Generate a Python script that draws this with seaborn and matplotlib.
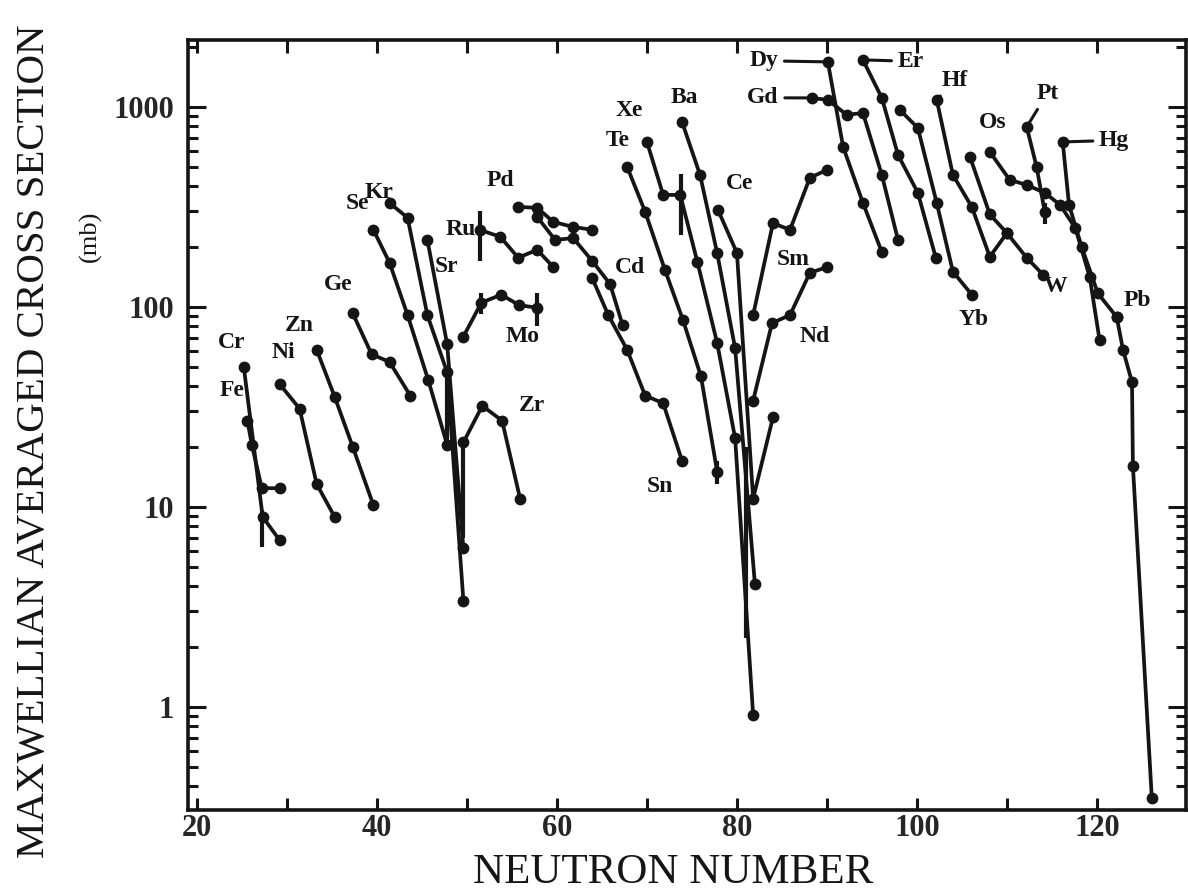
import numpy as np
import pandas as pd
import matplotlib
matplotlib.use("Agg")
import matplotlib.pyplot as plt
import seaborn as sns
from matplotlib.ticker import FixedLocator, FixedFormatter, MultipleLocator, LogLocator, NullFormatter

# isotope chains: neutron number and maxwellian averaged cross section (mb)
cr_n = [25.2, 27.3, 29.2]
cr_mb = [50, 8.9, 6.8]
fe_n = [25.6, 26.1, 27.2, 29.2]
fe_mb = [27, 20.4, 12.4, 12.4]
ni_n = [29.2, 31.4, 33.3, 35.3]
ni_mb = [41, 31, 13, 8.9]
zn_n = [33.3, 35.3, 37.3, 39.6]
zn_mb = [61, 35.5, 20, 10.2]
ge_n = [37.3, 39.4, 41.4, 43.7]
ge_mb = [93, 58, 53, 36]
se_n = [39.6, 41.4, 43.4, 45.7, 47.8]
se_mb = [243, 166, 91, 43, 20.4]
kr_n = [41.4, 43.4, 45.6, 47.8, 49.6]
kr_mb = [331, 279, 91, 47, 3.4]
sr_n = [45.6, 47.8, 49.6]
sr_mb = [216, 65, 6.2]
zr_n = [49.6, 51.7, 53.9, 55.9]
zr_mb = [21, 32, 27, 11]
mo_n = [49.6, 51.6, 53.8, 55.8, 57.8]
mo_mb = [71, 105, 115, 102, 99]
ru_n = [51.4, 53.7, 55.7, 57.8, 59.6]
ru_mb = [243, 224, 176, 193, 158]
pd_n = [55.7, 57.8, 59.6, 61.8, 63.9]
pd_mb = [316, 313, 266, 251, 243]
cd_n = [57.8, 59.8, 61.8, 63.9, 65.9, 67.3]
cd_mb = [282, 216, 221, 170, 130, 81]
sn_n = [63.9, 65.7, 67.8, 69.8, 71.8, 73.9]
sn_mb = [140, 91, 61, 36, 33, 17]
te_n = [67.8, 69.8, 72.0, 74.0, 76.0, 77.8]
te_mb = [501, 299, 153, 86, 45, 15]
xe_n = [70.0, 71.8, 73.7, 75.6, 77.8, 79.8, 81.8]
xe_mb = [668, 363, 363, 168, 66, 22, 0.91]
ba_n = [73.9, 75.9, 77.8, 79.8, 82.0]
ba_mb = [841, 457, 186, 62, 4.1]
ce_n = [77.9, 80.0, 81.8, 84.0]
ce_mb = [305, 186, 11, 28]
nd_n = [81.8, 83.9, 85.9, 88.1, 90.0]
nd_mb = [34, 83, 91, 148, 158]
sm_n = [81.8, 84.0, 85.9, 88.1, 90.0]
sm_mb = [91, 262, 243, 442, 484]
gd_n = [88.3, 90.1, 92.2, 94.0, 96.1, 97.9]
gd_mb = [1109, 1084, 912, 933, 457, 216]
dy_n = [90.1, 91.8, 94.0, 96.1]
dy_mb = [1679, 631, 331, 188]
er_n = [94.0, 96.1, 97.9, 100.1, 102.1]
er_mb = [1718, 1109, 575, 372, 176]
yb_n = [98.1, 100.1, 102.2, 104.0, 106.1]
yb_mb = [966, 785, 331, 150, 115]
hf_n = [102.2, 104.0, 106.1, 108.1, 110.0]
hf_mb = [1084, 457, 316, 178, 234]
w_n = [105.9, 108.1, 110.0, 112.2, 114.0]
w_mb = [562, 290, 234, 176, 145]
os_n = [108.1, 110.3, 112.2, 114.2, 115.9, 117.6, 119.2, 120.3]
os_mb = [596, 432, 407, 372, 324, 248, 141, 68]
pt_n = [112.2, 113.3, 114.2]
pt_mb = [794, 501, 299]
hg_n = [116.2, 116.9, 118.3, 120.1, 122.2]
hg_mb = [668, 324, 200, 117, 89]
pb_n = [122.2, 122.9, 123.9, 124.0, 126.1]
pb_mb = [89, 61, 42, 16, 0.35]

# uncertainty bars (neutron number, low, high)
err_n = [27.2, 47.8, 49.6, 51.4, 51.6, 57.8, 73.8, 77.8, 81.0, 114.2]
err_lo = [6.3, 19, 7, 170, 92, 80, 230, 13, 2.2, 260]
err_hi = [9.6, 45, 20, 300, 118, 118, 460, 17, 20, 330]

chains = {
    "Cr": (cr_n, cr_mb), "Fe": (fe_n, fe_mb), "Ni": (ni_n, ni_mb),
    "Zn": (zn_n, zn_mb), "Ge": (ge_n, ge_mb), "Se": (se_n, se_mb),
    "Kr": (kr_n, kr_mb), "Sr": (sr_n, sr_mb), "Zr": (zr_n, zr_mb),
    "Mo": (mo_n, mo_mb), "Ru": (ru_n, ru_mb), "Pd": (pd_n, pd_mb),
    "Cd": (cd_n, cd_mb), "Sn": (sn_n, sn_mb), "Te": (te_n, te_mb),
    "Xe": (xe_n, xe_mb), "Ba": (ba_n, ba_mb), "Ce": (ce_n, ce_mb),
    "Nd": (nd_n, nd_mb), "Sm": (sm_n, sm_mb), "Gd": (gd_n, gd_mb),
    "Dy": (dy_n, dy_mb), "Er": (er_n, er_mb), "Yb": (yb_n, yb_mb),
    "Hf": (hf_n, hf_mb), "W": (w_n, w_mb), "Os": (os_n, os_mb),
    "Pt": (pt_n, pt_mb), "Hg": (hg_n, hg_mb), "Pb": (pb_n, pb_mb),
}
rows = []
for el, (ns, ms) in chains.items():
    for n, m in zip(ns, ms):
        rows.append({"element": el, "N": n, "mb": m})
df = pd.DataFrame(rows)

sns.set_style("ticks")
plt.rcParams['font.family'] = ['Liberation Serif', 'DejaVu Serif']

fig = plt.figure(figsize=(11.88, 8.92), dpi=100)
ax = fig.add_axes([188 / 1188, 1 - 810 / 892, 998 / 1188, 770 / 892])

ink = "#151515"
sns.lineplot(data=df, x="N", y="mb", hue="element", units="element",
             palette=[ink] * len(chains), estimator=None, sort=False,
             marker="o", markersize=8.5, markeredgewidth=0, linewidth=2.7,
             legend=False, ax=ax)
ax.vlines(err_n, err_lo, err_hi, color=ink, linewidth=3)

ax.set_yscale("log")
ax.set_xlim(19, 129.9)
ax.set_ylim(0.305, 2160)

# element labels in data units
label_at = {
    "Cr": (23.9, 66), "Fe": (23.9, 38), "Ni": (29.6, 59), "Zn": (31.4, 81),
    "Ge": (35.7, 129), "Se": (37.8, 330), "Kr": (40.2, 375), "Sr": (47.7, 160),
    "Ru": (49.3, 245), "Pd": (53.7, 430), "Mo": (56.2, 71), "Zr": (57.2, 32),
    "Cd": (68.1, 158), "Sn": (71.4, 12.6), "Te": (66.8, 680), "Xe": (68.0, 960),
    "Ba": (74.2, 1110), "Ce": (80.3, 415), "Sm": (86.3, 172), "Nd": (88.6, 71),
    "Yb": (106.3, 86), "Os": (108.4, 840), "W": (115.4, 126),
}
for el, (x, y) in label_at.items():
    ax.text(x, y, el, fontsize=17, fontweight="bold", ha="center",
            va="center", color=ink)

# labels joined to the first point of their chain by a short stroke
connected = {
    "Dy": ((83.0, 1700), (90.1, 1679)),
    "Gd": ((82.9, 1110), (88.3, 1109)),
    "Er": ((99.3, 1690), (94.0, 1718)),
    "Hf": ((104.2, 1360), (102.2, 1084)),
    "Pt": ((114.5, 1170), (112.2, 794)),
    "Hg": ((121.9, 680), (116.2, 668)),
    "Pb": ((124.5, 108), (122.2, 89)),
}
for el, (txt, pt) in connected.items():
    ax.annotate(el, xy=pt, xytext=txt, fontsize=17, fontweight="bold",
                ha="center", va="center", color=ink,
                arrowprops=dict(arrowstyle="-", color=ink, lw=2.2,
                                shrinkA=2, shrinkB=3))

ax.xaxis.set_major_locator(MultipleLocator(20))
ax.xaxis.set_minor_locator(MultipleLocator(10))
ax.yaxis.set_major_locator(FixedLocator([1, 10, 100, 1000]))
ax.yaxis.set_major_formatter(FixedFormatter(["1", "10", "100", "1000"]))
ax.yaxis.set_minor_locator(LogLocator(base=10, subs=np.arange(2, 10)))
ax.yaxis.set_minor_formatter(NullFormatter())

ax.tick_params(axis="both", which="both", direction="in", top=True,
               right=True, color=ink, width=2.2)
ax.tick_params(axis="y", which="major", length=13, labelsize=22, pad=10)
ax.tick_params(axis="y", which="minor", length=7)
ax.tick_params(axis="x", which="both", length=9, labelsize=22, pad=3)
for lab in ax.get_xticklabels() + ax.get_yticklabels():
    lab.set_fontweight("bold")
for sp in ax.spines.values():
    sp.set_linewidth(2.6)
    sp.set_color(ink)

ax.set_xlabel("")
ax.set_ylabel("")
fig.text(0.567, 0.022, "NEUTRON NUMBER", fontsize=31, ha="center",
         va="center", color=ink)
fig.text(0.029, 0.505, "MAXWELLIAN AVERAGED CROSS SECTION", fontsize=29.5,
         rotation=90, ha="center", va="center", color=ink)
fig.text(0.076, 0.735, "(mb)", fontsize=19, rotation=90, ha="center",
         va="center", color=ink)

fig.savefig("out.png", dpi=100)
